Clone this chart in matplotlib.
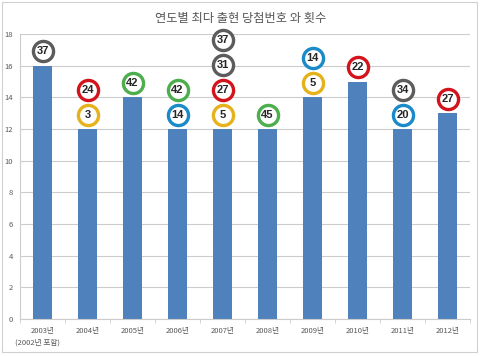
import matplotlib
matplotlib.use("Agg")
import matplotlib.pyplot as plt
from matplotlib.patches import Rectangle

plt.rcParams['font.family'] = ['Noto Sans CJK KR', 'DejaVu Sans']

years = ["2003년", "2004년", "2005년", "2006년", "2007년", "2008년", "2009년", "2010년", "2011년", "2012년"]
counts = [16, 12, 14, 12, 12, 12, 14, 15, 12, 13]
# winning numbers per year (bottom to top)
balls = [[37], [3, 24], [42], [14, 42], [5, 27, 31, 37], [45], [5, 14], [22], [20, 34], [27]]
title = "연도별 최다 출현 당첨번호 와 횟수"
note = "(2002년 포함)"

def ball_color(n):
    if n <= 10:
        return "#e5b21c"
    if n <= 20:
        return "#1b8ac8"
    if n <= 30:
        return "#d4141c"
    if n <= 40:
        return "#5c5c5c"
    return "#4cae4c"

fig = plt.figure(figsize=(4.8, 3.56), dpi=100)
fig.patch.set_facecolor("white")
# chart frame
fig.patches.append(Rectangle((2/480, 1-352/356), 475/480, 350/356, transform=fig.transFigure,
                             fill=False, edgecolor="#d0d0d0", linewidth=0.8))

ax = fig.add_axes([20/480, 1-319/356, 450/480, 285/356])
x = list(range(len(years)))
ax.bar(x, counts, width=0.42, color="#4f81bd", zorder=2)
ax.set_xlim(-0.5, len(years)-0.5)
ax.set_ylim(0, 18)
ax.set_yticks(range(0, 19, 2))
ax.yaxis.grid(True, color="#cccccc", linewidth=0.8, zorder=0)
ax.set_axisbelow(True)
for s in ["top", "right"]:
    ax.spines[s].set_visible(False)
ax.spines["left"].set_color("#cccccc")
ax.spines["bottom"].set_color("#cccccc")
ax.tick_params(axis="y", length=0, pad=5, labelsize=5.5, labelcolor="#595959")
ax.set_xticks(x)
ax.set_xticklabels(years, fontsize=5.5, color="#595959")
ax.tick_params(axis="x", length=0, pad=6)
ax.set_xticks([i + 0.5 for i in range(-1, len(years))], minor=True)
ax.tick_params(axis="x", which="minor", length=3, color="#cccccc")

ax.text(-0.12, -1.5, note, ha="center", va="center", fontsize=5.5, color="#595959",
        transform=ax.transData, clip_on=False)

for i, (c, nums) in enumerate(zip(counts, balls)):
    for k, n in enumerate(nums):
        yy = c + 0.9 + 1.57 * k
        ax.plot(i, yy, marker="o", markersize=14.5, markerfacecolor="white",
                markeredgecolor=ball_color(n), markeredgewidth=2.4, zorder=4, clip_on=False)
        ax.text(i, yy, str(n), ha="center", va="center", fontsize=8, fontweight="bold",
                color="#262626", zorder=5, family=["Liberation Sans Narrow", "Liberation Sans", "DejaVu Sans"])

fig.text(241/480, 1-18/356, title, ha="center", va="center", fontsize=8.8, color="#555555")

fig.savefig("out.png", dpi=100, facecolor="white")
